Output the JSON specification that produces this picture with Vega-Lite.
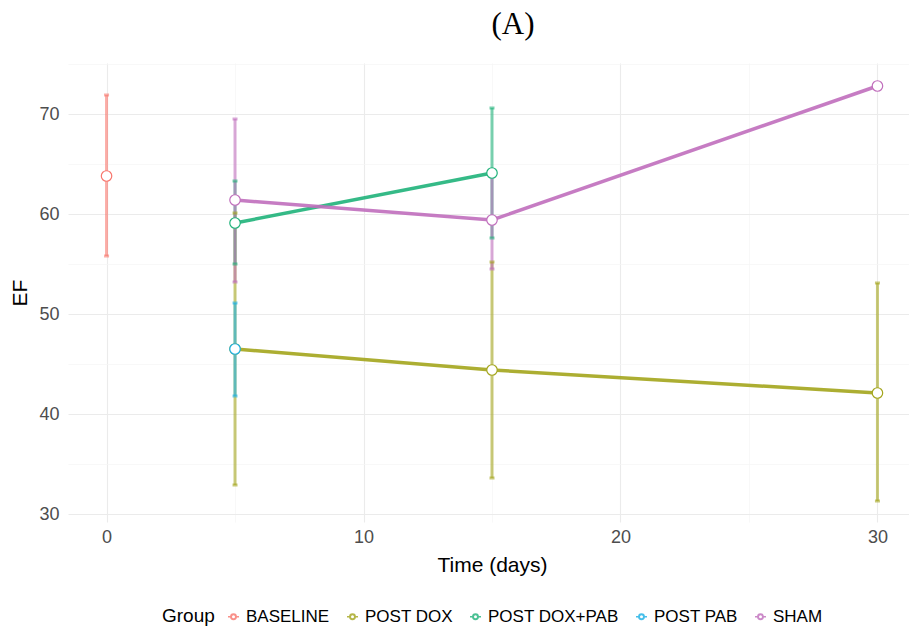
{
  "$schema": "https://vega.github.io/schema/vega-lite/v6.json",
  "width": 848,
  "height": 459,
  "autosize": {"type": "none"},
  "padding": {"left": 68, "top": 63, "right": 0, "bottom": 105},
  "background": "white",
  "title": {"text": "(A)", "font": "Liberation Serif", "fontSize": 31, "fontWeight": "normal", "color": "black", "anchor": "middle", "dx": 21, "offset": 22},
  "config": {
    "view": {"stroke": null},
    "axis": {"domain": false, "ticks": false, "labelFont": "Liberation Sans", "labelFontSize": 18, "labelColor": "#4D4D4D", "titleFont": "Liberation Sans", "titleFontSize": 21, "titleFontWeight": "normal", "titleColor": "black"},
    "legend": {"labelFont": "Liberation Sans", "labelFontSize": 17, "labelColor": "black", "titleFont": "Liberation Sans", "titleFontSize": 19, "titleFontWeight": "normal", "titleColor": "black"}
  },
  "data": {"values": [
    {"Group": "BASELINE", "time": 0, "ef": 63.8, "lo": 55.8, "hi": 71.9},
    {"Group": "POST DOX", "time": 5, "ef": 46.5, "lo": 32.9, "hi": 60.1},
    {"Group": "POST DOX", "time": 15, "ef": 44.4, "lo": 33.6, "hi": 55.2},
    {"Group": "POST DOX", "time": 30, "ef": 42.1, "lo": 31.3, "hi": 53.1},
    {"Group": "POST DOX+PAB", "time": 5, "ef": 59.1, "lo": 55.0, "hi": 63.3},
    {"Group": "POST DOX+PAB", "time": 15, "ef": 64.1, "lo": 57.6, "hi": 70.6},
    {"Group": "POST PAB", "time": 5, "ef": 46.5, "lo": 41.8, "hi": 51.1},
    {"Group": "SHAM", "time": 5, "ef": 61.4, "lo": 53.2, "hi": 69.5},
    {"Group": "SHAM", "time": 15, "ef": 59.4, "lo": 54.5, "hi": 64.3},
    {"Group": "SHAM", "time": 30, "ef": 72.8, "lo": 72.5, "hi": 73.1}
  ]},
  "encoding": {
    "x": {"field": "time", "type": "quantitative",
      "scale": {"domain": [-1.5, 31.5], "nice": false, "zero": false},
      "axis": {"title": "Time (days)", "values": [0, 5, 10, 15, 20, 25, 30],
        "labelExpr": "datum.value % 10 === 0 ? datum.label : ''",
        "gridColor": {"condition": {"test": "datum.value % 10 === 0", "value": "#EBEBEB"}, "value": "#F5F5F5"},
        "gridWidth": {"condition": {"test": "datum.value % 10 === 0", "value": 1.1}, "value": 0.7},
        "labelPadding": 6, "titlePadding": 8}},
    "y": {"field": "ef", "type": "quantitative",
      "scale": {"domain": [29.2, 75.1], "nice": false, "zero": false},
      "axis": {"title": "EF", "values": [30, 35, 40, 45, 50, 55, 60, 65, 70, 75],
        "labelExpr": "datum.value % 10 === 0 ? datum.label : ''",
        "gridColor": {"condition": {"test": "datum.value % 10 === 0", "value": "#EBEBEB"}, "value": "#F5F5F5"},
        "gridWidth": {"condition": {"test": "datum.value % 10 === 0", "value": 1.1}, "value": 0.7},
        "labelPadding": 9, "titlePadding": 8}},
    "color": {"field": "Group", "type": "nominal",
      "scale": {"domain": ["BASELINE", "POST DOX", "POST DOX+PAB", "POST PAB", "SHAM"],
                "range": ["#F8766D", "#A3A51C", "#1FB27A", "#1AB0E6", "#C06EBC"]},
      "legend": {"orient": "none", "legendX": 94, "legendY": 545, "direction": "horizontal", "titleOrient": "left",
        "symbolType": "M-1,0L-0.5,0M0.5,0L1,0M0.5,0A0.5,0.5,0,1,1,-0.5,0A0.5,0.5,0,1,1,0.5,0ZM0.4,0A0.4,0.4,0,1,0,-0.4,0A0.4,0.4,0,1,0,0.4,0Z",
        "symbolSize": 121, "symbolStrokeWidth": 1.4, "symbolOpacity": 0.8, "symbolFillColor": "white",
        "columnPadding": 14, "labelOffset": 4, "titlePadding": 10}}
  },
  "layer": [
    {"mark": {"type": "rule", "strokeWidth": 3, "opacity": 0.6}, "encoding": {"y": {"field": "lo", "type": "quantitative"}, "y2": {"field": "hi"}}},
    {"mark": {"type": "tick", "orient": "horizontal", "size": 5, "thickness": 3, "opacity": 0.6}, "encoding": {"y": {"field": "lo", "type": "quantitative"}}},
    {"mark": {"type": "tick", "orient": "horizontal", "size": 5, "thickness": 3, "opacity": 0.6}, "encoding": {"y": {"field": "hi", "type": "quantitative"}}},
    {"mark": {"type": "line", "strokeWidth": 3.5, "opacity": 0.9}},
    {"mark": {"type": "point", "filled": false, "fill": "white", "fillOpacity": 1, "size": 110, "strokeWidth": 1.2, "opacity": 1}}
  ]
}
